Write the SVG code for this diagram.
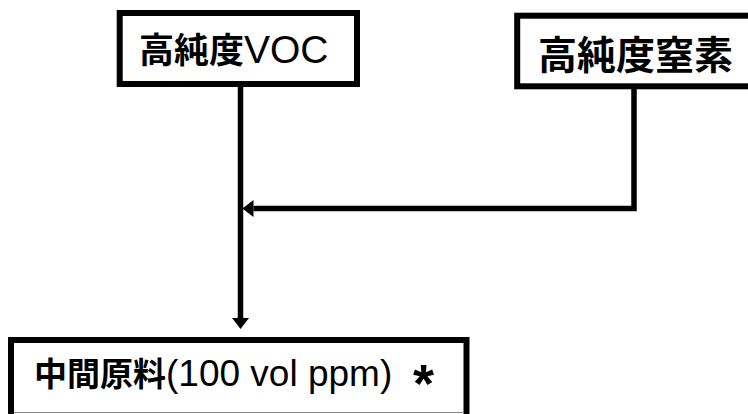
<svg xmlns="http://www.w3.org/2000/svg" width="748" height="414" viewBox="0 0 748 414">
<defs>
<style>
.box{fill:#fff;stroke:#000;stroke-width:6;stroke-linejoin:miter}
.lbl{font-family:"Liberation Sans","Noto Sans CJK JP",sans-serif;fill:#000}
.cjk{font-family:"Noto Sans CJK JP",sans-serif;font-weight:bold}
.conn{fill:none;stroke:#000;stroke-width:5.5;stroke-linejoin:miter}
</style>
<marker id="ah" markerUnits="userSpaceOnUse" markerWidth="11" markerHeight="17" viewBox="0 0 11 17" refX="0" refY="8.5" orient="auto">
<path d="M0,0 L11,8.5 L0,17 Z" fill="#000"/>
</marker>
</defs>
<rect width="748" height="414" fill="#fff"/>
<g id="node-voc">
<rect class="box" x="119.7" y="13" width="237.3" height="71"/>
<text class="lbl" x="139" y="63" font-size="39"><tspan class="cjk" font-size="35">高純度</tspan>VOC</text>
</g>
<g id="node-n2">
<rect class="box" x="517.2" y="15.7" width="300" height="70.6"/>
<text class="lbl" x="538" y="69" font-size="39"><tspan class="cjk">高純度窒素</tspan></text>
</g>
<g id="node-mid">
<rect class="box" x="11" y="340" width="455.5" height="110"/>
<line x1="14" y1="412.5" x2="463.5" y2="412.5" stroke="#888" stroke-width="1"/>
<text class="lbl" x="34" y="386" font-size="37"><tspan class="cjk" font-size="33">中間原料</tspan>(100 vol ppm) <tspan x="413" y="402" font-size="54" font-weight="bold">*</tspan></text>
</g>
<g id="connectors">
<path class="conn" d="M240.5,87 V318" marker-end="url(#ah)"/>
<path class="conn" d="M634,89 V208.5 H253.5" marker-end="url(#ah)"/>
</g>
</svg>
